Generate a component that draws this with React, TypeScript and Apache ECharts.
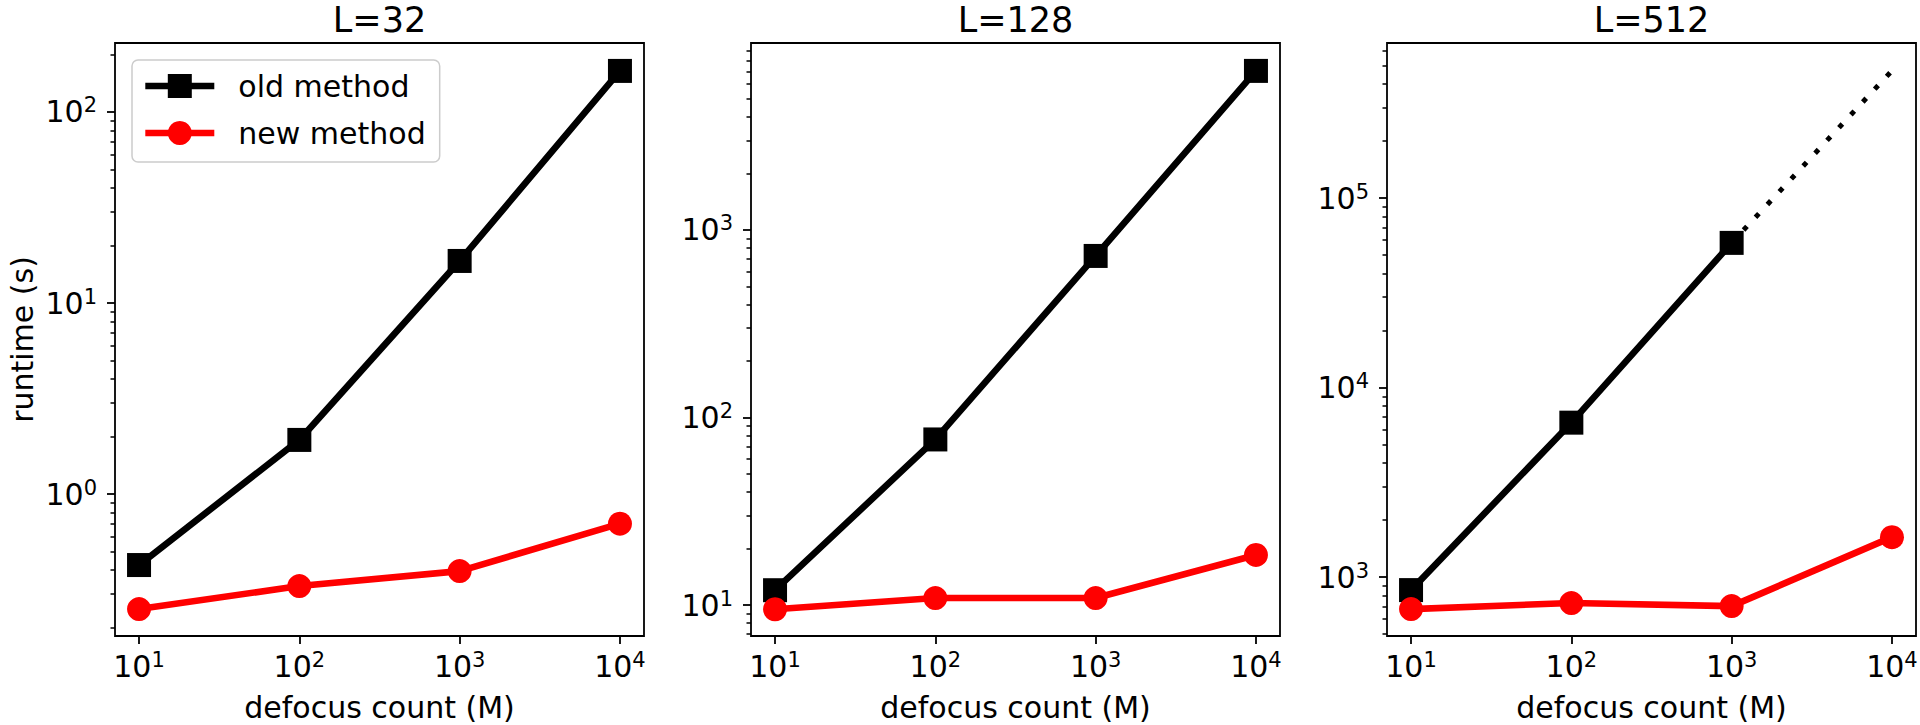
import React, { useEffect, useRef } from "react";
import * as echarts from "echarts";

// ---- data ----
const defocusCounts = [10, 100, 1000, 10000];
const panelTitles = ["L=32", "L=128", "L=512"];
const legendNames = ["old method", "new method"];

const oldMethod32 = [0.425, 1.92, 16.6, 164];
const newMethod32 = [0.25, 0.33, 0.395, 0.7];
const oldMethod128 = [12.0, 76.4, 727, 7050];
const newMethod128 = [9.5, 10.9, 10.9, 18.5];
const oldMethod512 = [854, 6530, 58000];
const newMethod512 = [678, 730, 703, 1625];
const extrapolatedX512 = [1000, 10000];
const extrapolatedOld512 = [58000, 470000];

const xTickValues = [10, 100, 1000, 10000];
const yMajorTicks32 = [1, 10, 100];
const yMajorTicks128 = [10, 100, 1000];
const yMajorTicks512 = [1000, 10000, 100000];
const minorMultipliers = [2, 3, 4, 5, 6, 7, 8, 9];
const minorDecades32 = [0.1, 1, 10, 100];
const minorDecades128 = [1, 10, 100, 1000];
const minorDecades512 = [100, 1000, 10000, 100000];

const xRange = [7.08, 14125];
const yRange32 = [0.1807, 229.6];
const yRange128 = [6.84, 9930];
const yRange512 = [489, 657700];

const FONT = "DejaVu Sans";

function minorTicks(decades: number[]) {
  const out: number[] = [];
  decades.forEach((d) => minorMultipliers.forEach((m) => out.push(Number((m * d).toPrecision(6)))));
  return out;
}

function powLabel(v: number) {
  return `{b|10}{s|${Math.round(Math.log10(v))}}`;
}

const rich = {
  b: { fontSize: 30, lineHeight: 34, fontFamily: FONT, color: "#000" },
  s: { fontSize: 21, lineHeight: 20, verticalAlign: "top", fontFamily: FONT, color: "#000" },
};

function buildOption() {
  const panels = [
    { title: panelTitles[0], left: 115, oldY: oldMethod32, newY: newMethod32, yRange: yRange32, major: yMajorTicks32, minor: minorTicks(minorDecades32) },
    { title: panelTitles[1], left: 751, oldY: oldMethod128, newY: newMethod128, yRange: yRange128, major: yMajorTicks128, minor: minorTicks(minorDecades128) },
    { title: panelTitles[2], left: 1387, oldY: oldMethod512, newY: newMethod512, yRange: yRange512, major: yMajorTicks512, minor: minorTicks(minorDecades512) },
  ];
  const W = 529;
  const TOP = 43;
  const H = 593;

  const title: any[] = [];
  const grid: any[] = [];
  const xAxis: any[] = [];
  const yAxis: any[] = [];
  const series: any[] = [];

  panels.forEach((p, i) => {
    title.push({
      text: p.title,
      left: p.left + W / 2,
      top: 2,
      textAlign: "center",
      padding: 0,
      textStyle: { fontSize: 35, fontWeight: "normal", fontFamily: FONT, color: "#000" },
    });
    grid.push({
      left: p.left,
      top: TOP,
      width: W,
      height: H,
      show: true,
      borderColor: "#000",
      borderWidth: 1.8,
      backgroundColor: "transparent",
      containLabel: false,
      outerBoundsMode: "none",
    });
    xAxis.push({
      type: "log",
      gridIndex: i,
      min: xRange[0],
      max: xRange[1],
      axisLine: { show: false },
      splitLine: { show: false },
      axisTick: { show: true, customValues: xTickValues, length: 8, lineStyle: { color: "#000", width: 1.8 } },
      axisLabel: { customValues: xTickValues, formatter: powLabel, margin: 13, rich },
      name: "defocus count (M)",
      nameLocation: "middle",
      nameGap: 56,
      nameMoveOverlap: false,
      nameTextStyle: { fontSize: 30, fontFamily: FONT, color: "#000" },
    });
    yAxis.push({
      type: "log",
      gridIndex: i,
      position: "left",
      min: p.yRange[0],
      max: p.yRange[1],
      axisLine: { show: false },
      splitLine: { show: false },
      axisTick: { show: true, customValues: p.major, length: 8, lineStyle: { color: "#000", width: 1.8 } },
      axisLabel: { customValues: p.major, formatter: powLabel, margin: 18, rich },
      name: i === 0 ? "runtime (s)" : "",
      nameLocation: "middle",
      nameGap: 78,
      nameMoveOverlap: false,
      nameTextStyle: { fontSize: 30, fontFamily: FONT, color: "#000" },
    });
    yAxis.push({
      type: "log",
      gridIndex: i,
      position: "left",
      min: p.yRange[0],
      max: p.yRange[1],
      axisLine: { show: false },
      splitLine: { show: false },
      axisTick: { show: true, customValues: p.minor, length: 4.5, lineStyle: { color: "#000", width: 1.5 } },
      axisLabel: { show: false },
    });

    if (i === 2) {
      series.push({
        name: "old method (extrapolated)",
        type: "line",
        xAxisIndex: i,
        yAxisIndex: 2 * i,
        data: extrapolatedX512.map((x, k) => [x, extrapolatedOld512[k]]),
        showSymbol: false,
        symbol: "none",
        lineStyle: { color: "#000", width: 5, type: [5, 12.5], cap: "butt" },
        z: 1,
        silent: true,
      });
    }
    series.push({
      name: legendNames[0],
      type: "line",
      xAxisIndex: i,
      yAxisIndex: 2 * i,
      data: p.oldY.map((y, k) => [defocusCounts[k], y]),
      symbol: "rect",
      symbolSize: 24,
      lineStyle: { color: "#000", width: 6.6 },
      itemStyle: { color: "#000" },
      z: 2,
    });
    series.push({
      name: legendNames[1],
      type: "line",
      xAxisIndex: i,
      yAxisIndex: 2 * i,
      data: p.newY.map((y, k) => [defocusCounts[k], y]),
      symbol: "circle",
      symbolSize: 24,
      lineStyle: { color: "#ff0000", width: 6.6 },
      itemStyle: { color: "#ff0000" },
      z: 3,
    });
  });

  return {
    animation: false,
    backgroundColor: "#fff",
    textStyle: { fontFamily: FONT },
    title,
    grid,
    xAxis,
    yAxis,
    series,
    legend: {
      data: legendNames,
      orient: "vertical",
      left: 132,
      top: 60,
      padding: [11, 14, 14, 10],
      itemWidth: 69,
      itemHeight: 30,
      itemGap: 17,
      backgroundColor: "rgba(255,255,255,0.8)",
      borderColor: "#cccccc",
      borderWidth: 1.5,
      borderRadius: 6,
      selectedMode: false,
      lineStyle: { width: 6.6 },
      textStyle: { fontSize: 30, fontFamily: FONT, color: "#000", padding: [0, 0, 0, 19] },
    },
  };
}

export default function App() {
  const ref = useRef<HTMLDivElement>(null);
  useEffect(() => {
    document.body.style.margin = "0";
    const chart = echarts.init(ref.current as HTMLDivElement, null, { renderer: "svg" });
    chart.setOption(buildOption() as any);
    return () => chart.dispose();
  }, []);
  return <div ref={ref} style={{ width: 1920, height: 725, position: "absolute", left: 0, top: 0 }} />;
}
